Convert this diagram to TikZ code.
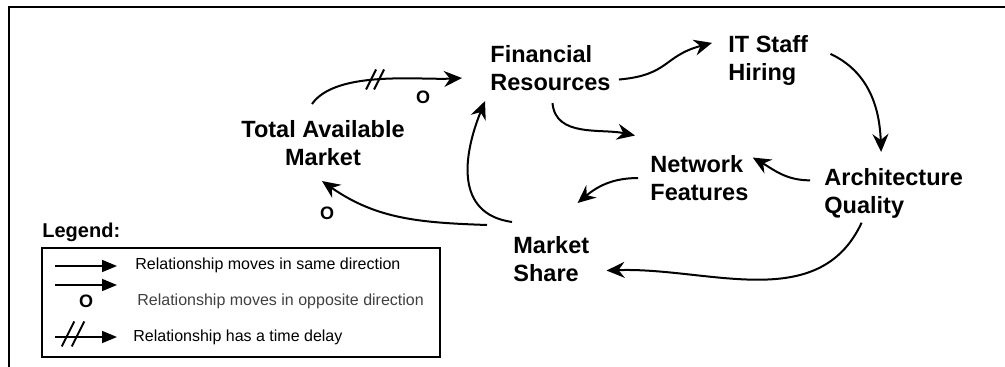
\documentclass[tikz,border=0pt]{standalone}
\usepackage{fontspec}
\setmainfont{Liberation Sans}
\usepackage{xcolor}
\usepackage{tikz}
\usetikzlibrary{arrows.meta,calc}

\tikzset{
  var/.style={font=\fontsize{11.75}{14}\selectfont\bfseries, align=left, anchor=north west, inner sep=0pt},
  link/.style={line width=1pt, -{Stealth[length=9pt,width=8pt,inset=3pt]}},
  opp/.style={font=\fontsize{9}{10}\selectfont\bfseries, inner sep=0pt},
  key/.style={line width=0.8pt, -{Triangle[length=7.5pt,width=6pt]}},
  keytext/.style={font=\fontsize{8}{10}\selectfont, anchor=west, inner sep=0pt},
  delay/.pic={\draw[line width=1pt] (-9,-10) -- (1,10) (-1,-10) -- (9,10);}
}

\begin{document}
\begin{tikzpicture}[x=0.5pt,y=0.5pt]
\useasboundingbox (0,0) rectangle (1005,-367);
\draw[line width=1pt] (9,-367) |- (1005,-7);

% variables
\node[var] (fin) at (490,-45) {Financial\\Resources};
\node[var] (it) at (728,-35) {IT Staff\\Hiring};
\node[var, align=center, anchor=north] (tam) at (323,-120) {Total Available\\Market};
\node[var] (nf) at (650,-155) {Network\\Features};
\node[var] (aq) at (824,-168) {Architecture\\Quality};
\node[var] (ms) at (513,-236) {Market\\Share};

% links
\draw[link] ($(tam.north)+(-11,16)$) to[out=55,in=183,looseness=0.7] coordinate[pos=0.47] (d1) ($(fin.west)+(-28,-10)$);
\pic at (d1) {delay};
\node[opp] (o1) at (423,-97) {O};
\draw[link] ($(ms.north west)+(-1,14)$) to[out=172,in=248,looseness=1.2] ($(fin.south west)+(-5,-10)$);
\draw[link] ($(ms.north west)+(-26,11)$) to[out=178,in=-35] ($(tam.south)+(-1,-15)$);
\node[opp] (o2) at (327,-213) {O};
\draw[link] ($(fin.east)+(8,-11.5)$) to[out=5,in=195,looseness=1.3] ($(it.west)+(-16,17.5)$);
\draw[link] ($(it.east)+(22,6.5)$) to[out=-25,in=92] ($(aq.north)+(-12.5,16)$);
\draw[link] ($(fin.south)+(2,-12)$) to[out=-85,in=168] ($(nf.west)+(-15,42.5)$);
\draw[link] ($(aq.west)+(-14,13)$) to[out=180,in=-30] ($(nf.east)+(4,20.5)$);
\draw[link] ($(nf.west)+(-12,0)$) to[out=180,in=40] ($(ms.north east)+(-12,33)$);
\draw[link] ($(aq.south)+(-32,-4)$) to[out=-115,in=2] ($(ms.east)+(17,-11.5)$);

% legend
\node[font=\fontsize{10}{12}\selectfont\bfseries, anchor=west, inner sep=0pt] (legend) at (42,-232) {Legend:};
\draw[line width=0.8pt] (42,-248) rectangle (440,-357);
\coordinate (k1s) at (55,-266); \coordinate (k1e) at (117,-266);
\coordinate (k2s) at (55,-285); \coordinate (k2e) at (117,-285);
\coordinate (k3s) at (55,-337); \coordinate (k3e) at (117,-337);
\draw[key] (k1s) -- (k1e);
\draw[key] (k2s) -- (k2e);
\draw[key] (k3s) -- (k3e);
\pic[scale=1.25] at (73,-334) {delay};
\node[opp] (o3) at (86,-301) {O};
\node[keytext] (t1) at (135,-265) {Relationship moves in same direction};
\node[keytext, text=black!75] (t2) at (137,-301) {Relationship moves in opposite direction};
\node[keytext] (t3) at (133,-337) {Relationship has a time delay};
\end{tikzpicture}
\end{document}
